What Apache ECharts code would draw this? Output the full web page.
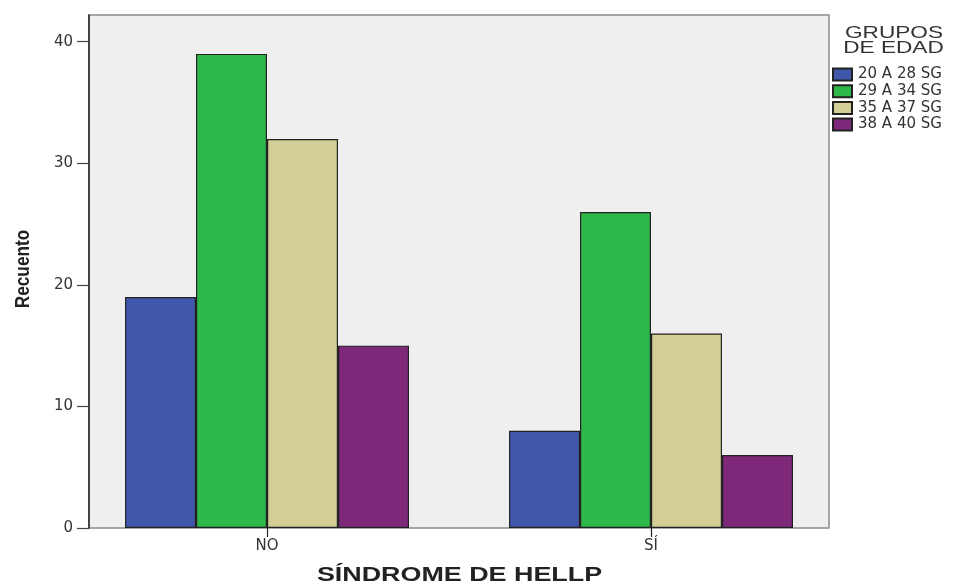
<!DOCTYPE html>
<html><head><meta charset="utf-8">
<script src="https://cdn.jsdelivr.net/npm/echarts@6/dist/echarts.min.js"></script>
<style>html,body{margin:0;padding:0;background:#fff}#c{width:959px;height:583px}</style>
</head><body><div id="c"></div>
<script>
var categories = ['NO', 'SÍ'];
var seriesNames = ['20 A 28 SG', '29 A 34 SG', '35 A 37 SG', '38 A 40 SG'];
var values20a28 = [19, 8];
var values29a34 = [39, 26];
var values35a37 = [32, 16];
var values38a40 = [15, 6];
var yTicks = [0, 10, 20, 30, 40];
var colors = ['#3f58ab', '#2eb84a', '#d4cf96', '#7d2879'];

var seriesValues = [values20a28, values29a34, values35a37, values38a40];
var chart = echarts.init(document.getElementById('c'));
var font = 'Liberation Sans, Arial, sans-serif';
var wide = 'DejaVu Sans, sans-serif';
chart.setOption({
  animation: false,
  grid: [
    {left: 89, right: 130, top: 15, bottom: 55, show: true, backgroundColor: '#efefef', borderColor: '#8c8c8c', borderWidth: 1.5, outerBoundsMode: 'none'},
    {left: 75, right: 116, top: 15, bottom: 55, outerBoundsMode: 'none'}
  ],
  xAxis: [
    {gridIndex: 0, type: 'value', min: 0, max: 1, show: false},
    {gridIndex: 1, type: 'category', data: categories,
      axisLine: {show: false},
      axisTick: {show: true, alignWithLabel: true, length: 9, lineStyle: {color: '#222', width: 1.2}},
      axisLabel: {color: '#333', fontFamily: wide, fontSize: 15, margin: 11}
    }
  ],
  yAxis: [
    {gridIndex: 0, type: 'value', min: 0, max: 42.2,
      axisLine: {show: true, lineStyle: {color: '#222', width: 1.5}},
      axisTick: {show: true, length: 12, customValues: yTicks, lineStyle: {color: '#444', width: 1.2}},
      axisLabel: {color: '#333', fontFamily: wide, fontSize: 15, margin: 16, customValues: yTicks},
      splitLine: {show: false}
    },
    {gridIndex: 1, type: 'value', min: 0, max: 42.2, show: false}
  ],
  legend: {
    orient: 'vertical', left: 832, top: 67, padding: 0, itemWidth: 19, itemHeight: 12, itemGap: 1.7,
    icon: 'rect',
    textStyle: {fontFamily: wide, fontSize: 15, color: '#333', padding: [0, 0, 0, 1]},
    data: seriesNames
  },
  graphic: [
    {type: 'text', x: 894, y: 33.5, scaleX: 1.33, style: {text: 'GRUPOS', font: '17px ' + font, fill: '#333', align: 'center', verticalAlign: 'middle'}},
    {type: 'text', x: 893.5, y: 48.5, scaleX: 1.33, style: {text: 'DE EDAD', font: '17px ' + font, fill: '#333', align: 'center', verticalAlign: 'middle'}},
    {type: 'text', x: 459.5, y: 575, scaleX: 1.344, style: {text: 'SÍNDROME DE HELLP', font: 'bold 20px ' + font, fill: '#222', align: 'center', verticalAlign: 'middle'}},
    {type: 'text', x: 23, y: 269, rotation: Math.PI / 2, scaleX: 0.86, style: {text: 'Recuento', font: 'bold 20px ' + font, fill: '#222', align: 'center', verticalAlign: 'middle'}}
  ],
  series: seriesNames.map(function (n, i) {
    return {
      name: n, type: 'bar', xAxisIndex: 1, yAxisIndex: 1,
      data: seriesValues[i], barWidth: 71, barGap: '0%',
      itemStyle: {color: colors[i], borderColor: '#222', borderWidth: 1.2}
    };
  })
});
</script></body></html>
